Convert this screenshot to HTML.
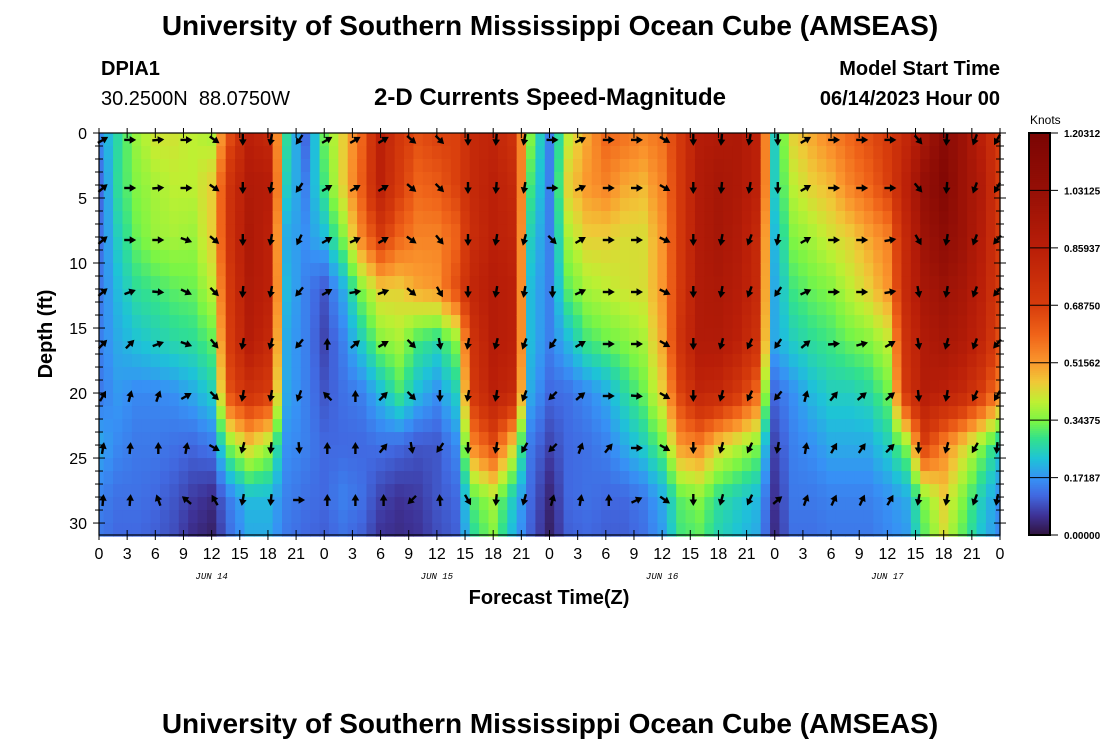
<!DOCTYPE html>
<html><head><meta charset="utf-8"><style>
body{margin:0;background:#fff;width:1100px;height:750px;overflow:hidden;font-family:"Liberation Sans",Arial,sans-serif}
</style></head><body>
<svg id="chart" width="1100" height="750" xmlns="http://www.w3.org/2000/svg" font-family="Liberation Sans, Arial, sans-serif">
<text x="550" y="35" text-anchor="middle" font-size="28" font-weight="bold">University of Southern Mississippi Ocean Cube (AMSEAS)</text>
<text x="101" y="75" font-size="20" font-weight="bold">DPIA1</text>
<text x="101" y="105" font-size="20" xml:space="preserve" style="white-space:pre">30.2500N  88.0750W</text>
<text x="550" y="105" text-anchor="middle" font-size="24" font-weight="bold">2-D Currents Speed-Magnitude</text>
<text x="1000" y="75" text-anchor="end" font-size="20" font-weight="bold">Model Start Time</text>
<text x="1000" y="105" text-anchor="end" font-size="20" font-weight="bold">06/14/2023 Hour 00</text>
<g id="heat"></g>
<g id="arrows"></g>
<g id="axes"></g>
<text transform="translate(52,334) rotate(-90)" text-anchor="middle" font-size="20" font-weight="bold">Depth (ft)</text>
<text x="549" y="604" text-anchor="middle" font-size="20" font-weight="bold">Forecast Time(Z)</text>
<g id="cbar"></g>
<text x="1030" y="124" font-size="12">Knots</text>
<text x="550" y="733" text-anchor="middle" font-size="28" font-weight="bold">University of Southern Mississippi Ocean Cube (AMSEAS)</text>
</svg>
<script>
const hours = [0,2,4,6,8,10,12,14,16,18,20,22,24,26,28,30,32,34,36,38,40,42,44,46,48,50,52,54,56,58,60,62,64,66,68,70,72,74,76,78,80,82,84,86,88,90,92,94,96];
const depths = [0,4,8,12,16,20,24,28,31];
const speed0 = [0.17,0.27,0.37,0.42,0.42,0.40,0.38,0.65,0.85,0.80,0.28,0.12,0.33,0.45,0.60,0.85,0.72,0.65,0.68,0.68,0.80,0.82,0.75,0.35,0.15,0.40,0.50,0.60,0.58,0.55,0.58,0.72,0.88,0.90,0.92,0.85,0.25,0.45,0.50,0.55,0.60,0.65,0.70,0.80,0.95,1.10,1.00,0.85,0.70];
const speed4 = [0.12,0.28,0.35,0.38,0.40,0.40,0.45,0.75,0.90,0.88,0.25,0.15,0.30,0.45,0.62,0.85,0.70,0.60,0.62,0.68,0.80,0.85,0.80,0.30,0.15,0.45,0.52,0.55,0.50,0.48,0.55,0.72,0.90,0.95,0.92,0.85,0.25,0.40,0.45,0.48,0.55,0.60,0.68,0.85,1.05,1.15,1.00,0.90,0.70];
const speed8 = [0.13,0.25,0.33,0.37,0.38,0.37,0.45,0.75,0.92,0.85,0.20,0.17,0.22,0.35,0.55,0.70,0.60,0.55,0.55,0.60,0.78,0.85,0.82,0.25,0.15,0.38,0.45,0.45,0.43,0.43,0.52,0.72,0.90,0.95,0.90,0.80,0.22,0.35,0.38,0.42,0.45,0.50,0.55,0.80,1.00,1.08,1.00,0.88,0.70];
const speed12 = [0.14,0.22,0.28,0.30,0.32,0.33,0.40,0.72,0.90,0.85,0.22,0.15,0.10,0.20,0.35,0.45,0.45,0.50,0.52,0.65,0.82,0.88,0.85,0.22,0.15,0.32,0.38,0.40,0.42,0.43,0.52,0.72,0.90,0.92,0.88,0.80,0.20,0.30,0.33,0.35,0.40,0.45,0.52,0.80,0.95,1.00,0.95,0.85,0.70];
const speed16 = [0.15,0.20,0.23,0.25,0.27,0.28,0.32,0.70,0.88,0.80,0.20,0.15,0.08,0.15,0.25,0.35,0.38,0.30,0.27,0.35,0.75,0.88,0.85,0.22,0.15,0.22,0.30,0.33,0.35,0.38,0.50,0.75,0.90,0.90,0.85,0.75,0.20,0.25,0.28,0.30,0.33,0.35,0.40,0.75,0.90,0.95,0.90,0.82,0.65];
const speed20 = [0.14,0.18,0.16,0.16,0.17,0.20,0.25,0.65,0.75,0.70,0.20,0.15,0.10,0.13,0.15,0.22,0.30,0.22,0.17,0.25,0.72,0.85,0.80,0.20,0.12,0.13,0.16,0.20,0.27,0.33,0.45,0.68,0.82,0.80,0.72,0.60,0.12,0.17,0.22,0.25,0.25,0.27,0.33,0.72,0.88,0.85,0.80,0.70,0.55];
const speed24 = [0.20,0.16,0.14,0.14,0.13,0.12,0.14,0.35,0.45,0.38,0.17,0.15,0.12,0.12,0.12,0.13,0.12,0.10,0.10,0.16,0.55,0.65,0.45,0.14,0.08,0.12,0.13,0.15,0.20,0.25,0.33,0.52,0.55,0.45,0.40,0.35,0.08,0.15,0.17,0.20,0.20,0.20,0.25,0.35,0.68,0.55,0.45,0.35,0.25];
const speed28 = [0.15,0.13,0.13,0.12,0.10,0.07,0.05,0.15,0.22,0.22,0.15,0.13,0.12,0.15,0.13,0.08,0.06,0.07,0.10,0.12,0.32,0.38,0.25,0.12,0.04,0.12,0.13,0.12,0.12,0.14,0.20,0.32,0.35,0.28,0.25,0.22,0.06,0.14,0.14,0.15,0.15,0.15,0.17,0.20,0.35,0.45,0.35,0.25,0.17];
const speed31 = [0.14,0.12,0.12,0.11,0.09,0.05,0.03,0.13,0.20,0.20,0.14,0.12,0.11,0.13,0.11,0.06,0.05,0.06,0.09,0.11,0.28,0.35,0.22,0.11,0.03,0.11,0.12,0.11,0.11,0.13,0.18,0.30,0.32,0.26,0.23,0.20,0.05,0.13,0.13,0.14,0.14,0.14,0.16,0.18,0.32,0.42,0.32,0.23,0.16];
const speedRows = [speed0,speed4,speed8,speed12,speed16,speed20,speed24,speed28,speed31];

const arrowHours = [0,3,6,9,12,15,18,21,24,27,30,33,36,39,42,45,48,51,54,57,60,63,66,69,72,75,78,81,84,87,90,93,96];
const arrowDepths = [0.3,4,8,12,16,20,24,28];
const dir0 = [30,0,5,0,-35,-90,-100,-125,30,30,30,-40,-45,-90,-95,-100,0,25,0,0,-30,-90,-95,-100,-90,30,0,0,0,-50,-95,-110,-120];
const dir4 = [40,0,5,0,-35,-90,-100,-125,30,30,30,-40,-45,-90,-95,-100,0,25,0,0,-30,-90,-95,-100,-90,30,0,0,0,-50,-95,-110,-120];
const dir8 = [40,0,0,-20,-40,-90,-100,-115,30,25,30,-35,-50,-90,-100,-105,-45,30,0,0,-25,-90,-100,-110,-100,30,0,0,10,-60,-100,-110,-130];
const dir12 = [40,20,-5,-25,-45,-95,-100,-130,30,10,20,-40,-60,-90,-100,-100,-90,25,0,0,-25,-90,-100,-110,-125,25,0,0,10,-80,-100,-110,-130];
const dir16 = [45,45,20,-20,-50,-100,-105,-130,90,40,30,-45,-80,-100,-105,-110,-125,30,0,0,-30,-90,-105,-115,-125,40,5,15,30,-80,-105,-110,-130];
const dir20 = [60,75,70,30,-45,-100,-100,-110,135,90,45,-45,-90,-100,-100,-110,-135,40,0,-5,-30,-90,-105,-115,-130,75,50,40,40,-85,-100,-115,-120];
const dir24 = [80,85,90,80,-30,-105,-95,-85,90,90,50,-80,-125,-90,-100,-120,-135,70,50,0,-30,-90,-105,-115,-100,80,60,55,45,-90,-105,-120,-95];
const dir28 = [85,85,110,140,120,-100,-95,0,90,90,90,-135,95,-60,-95,-105,75,80,90,25,-35,-90,-105,-115,40,70,65,65,60,-100,-100,-110,-100];
const dirRows = [dir0,dir4,dir8,dir12,dir16,dir20,dir24,dir28];

const yTicks = [0,5,10,15,20,25,30];
const xTickLabels = ["0","3","6","9","12","15","18","21","0","3","6","9","12","15","18","21","0","3","6","9","12","15","18","21","0","3","6","9","12","15","18","21","0"];
const dayLabels = ["JUN 14","JUN 15","JUN 16","JUN 17"];
const dayLabelHours = [12,36,60,84];
const cbarValues = [0,0.171875,0.34375,0.515625,0.6875,0.859375,1.03125,1.203125];
const cbarLabels = ["0.000000","0.171875","0.343750","0.515625","0.687500","0.859375","1.031250","1.203125"];

const X0=99,X1=1000,Y0=133,Y1=535,HMAX=96,DMAX=30.92,VMAX=1.203125;
const xs=h=>X0+(h/HMAX)*(X1-X0);
const ys=d=>Y0+(d/DMAX)*(Y1-Y0);
const NS='http://www.w3.org/2000/svg';
function mk(tag,attrs,parent){const e=document.createElementNS(NS,tag);for(const k in attrs)e.setAttribute(k,attrs[k]);parent.appendChild(e);return e;}

const stops=[[0,[48,18,59]],[0.06,[62,50,150]],[0.12,[65,105,225]],[0.17,[55,145,245]],[0.23,[30,195,215]],[0.29,[50,225,140]],[0.34,[120,245,70]],[0.40,[190,240,50]],[0.46,[240,200,55]],[0.52,[250,150,45]],[0.60,[240,100,25]],[0.69,[215,60,12]],[0.86,[185,30,8]],[1.03,[150,16,6]],[1.21,[122,4,3]]];
function cmap(v){const t=Math.max(0,Math.min(1.2,v));for(let i=1;i<stops.length;i++){if(t<=stops[i][0]){const a=stops[i-1],b=stops[i];const f=(t-a[0])/(b[0]-a[0]);const c=a[1].map((x,j)=>Math.round(x+(b[1][j]-x)*f));return `rgb(${c[0]},${c[1]},${c[2]})`;}}return 'rgb(122,4,3)';}
function interp(arr,v){for(let i=1;i<arr.length;i++){if(v<=arr[i])return [i-1,(v-arr[i-1])/(arr[i]-arr[i-1])];}return [arr.length-2,1];}
function sample(h,d){const [i,fi]=interp(hours,h);const [j,fj]=interp(depths,d);
 const a=speedRows[j][i],b=speedRows[j][i+1],c=speedRows[j+1][i],e=speedRows[j+1][i+1];
 return (a*(1-fi)+b*fi)*(1-fj)+(c*(1-fi)+e*fi)*fj;}

const heat=document.getElementById('heat');
for(let h=0;h<=96;h++){
 const hx0=Math.max(0,h-0.5),hx1=Math.min(96,h+0.5);
 for(let d=0;d<31;d++){
  const v=sample(h,Math.min(d+0.5,31));
  const r=mk('rect',{x:xs(hx0).toFixed(2),y:ys(d).toFixed(2),width:(xs(hx1)-xs(hx0)+0.6).toFixed(2),height:(ys(d+1)-ys(d)+0.6).toFixed(2),fill:cmap(v)},heat);
  
  
 }
}

const ag=document.getElementById('arrows');
arrowDepths.forEach((d,ri)=>{arrowHours.forEach((h,ci)=>{
 const ang=dirRows[ri][ci]*Math.PI/180;const L=12;
 const cx=xs(h)+ (h===96?-3:(h===0?4:3)), cy=ys(d)+3;
 const x1=cx-Math.cos(ang)*L/2,y1=cy+Math.sin(ang)*L/2,x2=cx+Math.cos(ang)*L/2,y2=cy-Math.sin(ang)*L/2;
 const g=mk('g',{},ag);
 
 
 mk('line',{x1:x1.toFixed(1),y1:y1.toFixed(1),x2:(x2-Math.cos(ang)*3).toFixed(1),y2:(y2+Math.sin(ang)*3).toFixed(1),stroke:'#000','stroke-width':2.4},g);
 const hl=6.5,hw=3.8;const bx=x2-Math.cos(ang)*hl,by=y2+Math.sin(ang)*hl;const px=-Math.sin(ang)*hw,py=-Math.cos(ang)*hw;
 mk('polygon',{points:`${x2.toFixed(1)},${y2.toFixed(1)} ${(bx+px).toFixed(1)},${(by+py).toFixed(1)} ${(bx-px).toFixed(1)},${(by-py).toFixed(1)}`,fill:'#000'},g);
});});

const ax=document.getElementById('axes');
mk('rect',{x:X0,y:Y0,width:X1-X0,height:Y1-Y0,fill:'none',stroke:'#000','stroke-width':1.2},ax);
for(let d=0;d<=30;d++){const y=ys(d);const L=d%5===0?6:4;
 mk('line',{x1:X0-L,y1:y,x2:X0+L,y2:y,stroke:'#000'},ax);mk('line',{x1:X1-L,y1:y,x2:X1+L,y2:y,stroke:'#000'},ax);}
yTicks.forEach(d=>{const t=mk('text',{x:X0-12,y:ys(d)+6,'text-anchor':'end','font-size':16},ax);t.textContent=d;
 
 });
xTickLabels.forEach((lab,i)=>{const x=xs(i*3);
 mk('line',{x1:x,y1:Y0-5,x2:x,y2:Y0+5,stroke:'#000'},ax);mk('line',{x1:x,y1:Y1-5,x2:x,y2:Y1+5,stroke:'#000'},ax);
 const t=mk('text',{x:x,y:Y1+24,'text-anchor':'middle','font-size':16},ax);t.textContent=lab;
 
 });
dayLabels.forEach((lab,i)=>{const t=mk('text',{x:xs(dayLabelHours[i]),y:Y1+44,'text-anchor':'middle','font-size':9,'font-style':'italic','font-family':'Liberation Mono, monospace'},ax);t.textContent=lab;
 
 });

const cb=document.getElementById('cbar');const CX=1029,CW=21;
for(let k=0;k<200;k++){const v=VMAX*(k+0.5)/200;const y=Y1-(k+1)*(Y1-Y0)/200;mk('rect',{x:CX,y:y.toFixed(2),width:CW,height:((Y1-Y0)/200+0.6).toFixed(2),fill:cmap(v)},cb);}
mk('rect',{x:CX,y:Y0,width:CW,height:Y1-Y0,fill:'none',stroke:'#000','stroke-width':2},cb);
cbarValues.forEach((v,i)=>{const y=Y1-(v/VMAX)*(Y1-Y0);
 mk('line',{x1:CX,y1:y,x2:CX+CW+8,y2:y,stroke:'#000','stroke-width':1},cb);
 const t=mk('text',{x:1064,y:y+4,'font-size':10,'font-weight':'bold'},cb);t.textContent=cbarLabels[i];
 
 });
</script>
</body></html>
